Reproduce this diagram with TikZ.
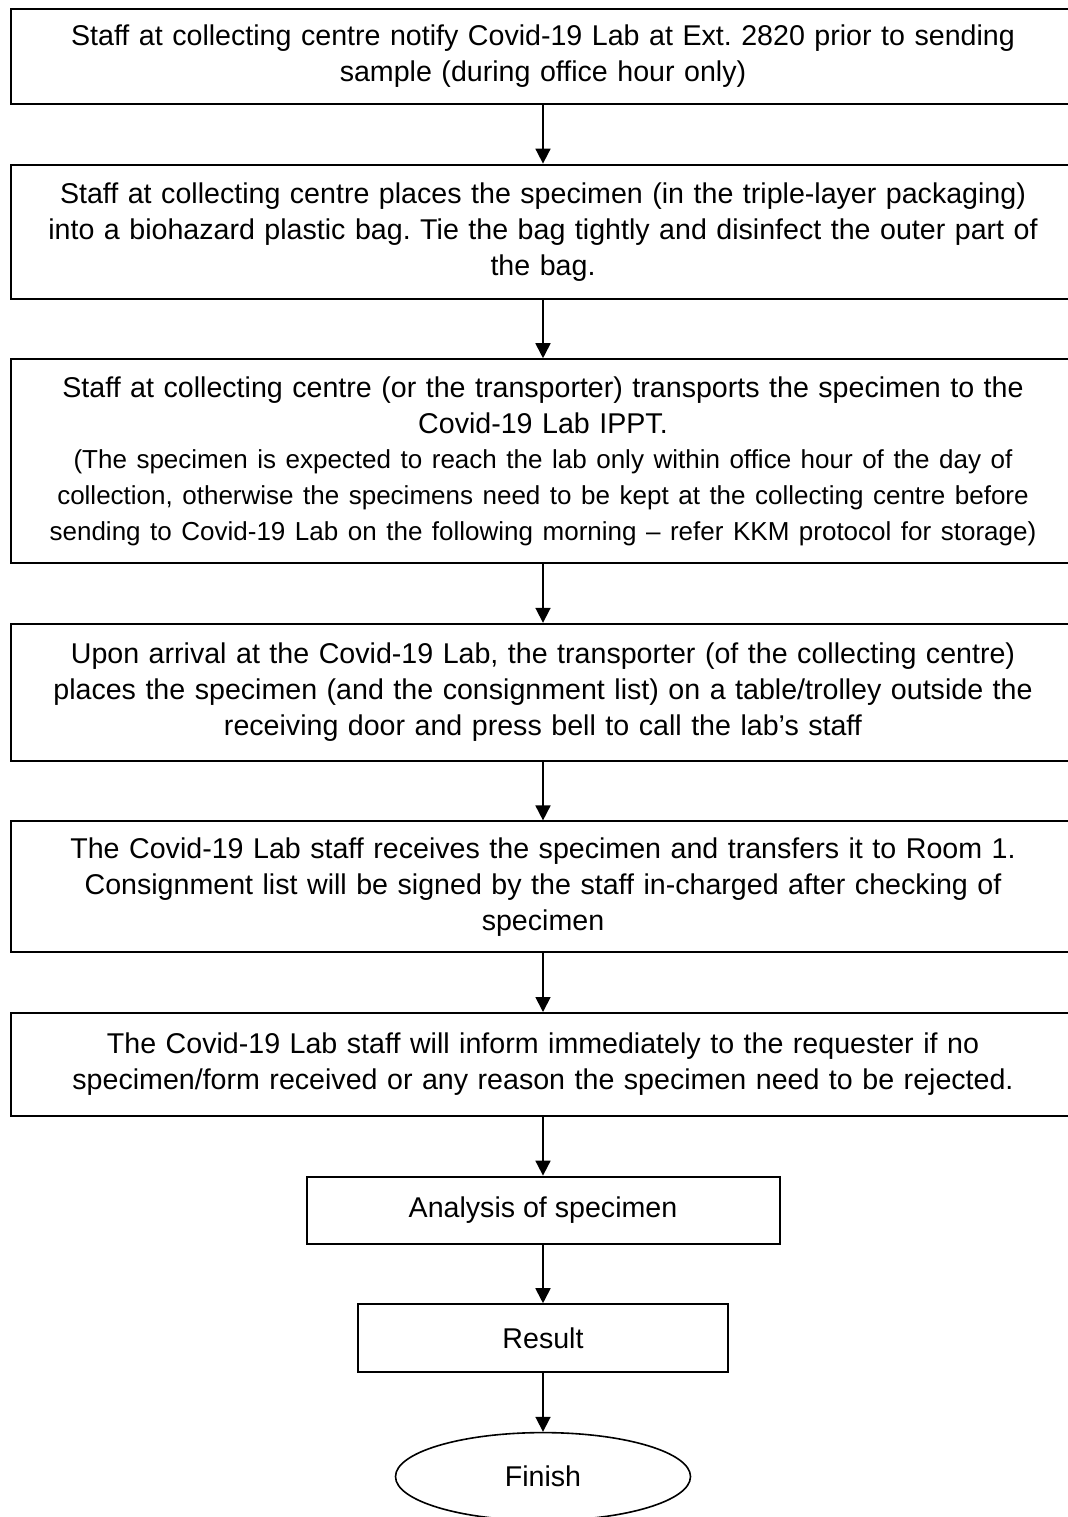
\documentclass[tikz,border=0pt]{standalone}
\usepackage{fontspec}
\setmainfont{Liberation Sans}
\frenchspacing
\usetikzlibrary{positioning,shapes.geometric,arrows.meta}
\tikzstyle{process} = [rectangle, minimum width=532pt, text width=525pt, align=center, draw=black, line width=1pt]
\tikzstyle{shortprocess} = [rectangle, align=center, draw=black, line width=1pt]
\tikzstyle{terminal} = [ellipse, minimum width=147.5pt, minimum height=44pt, inner sep=0pt, draw=black, line width=0.8pt]
\tikzstyle{arrow} = [line width=0.9pt,->,>={Triangle[length=7.5pt,width=7.5pt]}]

\begin{document}
\begin{tikzpicture}[node distance=29.3pt, font=\fontsize{14.3}{18}\selectfont]
\useasboundingbox (0,0) rectangle (534pt,-758.5pt);
\node (notify) [process, minimum height=47.5pt, anchor=north] at (271.5pt,-4pt) {Staff at collecting centre notify Covid-19 Lab at Ext. 2820 prior to sending\\ sample (during office hour only)};
\node (bag) [process, minimum height=67pt, below = of notify] {Staff at collecting centre places the specimen (in the triple-layer packaging)\\ into a biohazard plastic bag. Tie the bag tightly and disinfect the outer part of\\ the bag.};
\node (transport) [process, minimum height=102pt, below = of bag] {Staff at collecting centre (or the transporter) transports the specimen to the\\ Covid-19 Lab IPPT.\par
\fontsize{13}{17.8}\selectfont (The specimen is expected to reach the lab only within office hour of the day of\\ collection, otherwise the specimens need to be kept at the collecting centre before\\ sending to Covid-19 Lab on the following morning -- refer KKM protocol for storage)};
\node (arrival) [process, minimum height=68.5pt, below = of transport] {Upon arrival at the Covid-19 Lab, the transporter (of the collecting centre)\\ places the specimen (and the consignment list) on a table/trolley outside the\\ receiving door and press bell to call the lab's staff};
\node (receive) [process, minimum height=65.5pt, below = of arrival] {The Covid-19 Lab staff receives the specimen and transfers it to Room 1.\\ Consignment list will be signed by the staff in-charged after checking of\\ specimen};
\node (inform) [process, minimum height=51.5pt, below = of receive] {The Covid-19 Lab staff will inform immediately to the requester if no\\ specimen/form received or any reason the specimen need to be rejected.};
\node (analysis) [shortprocess, minimum width=236.5pt, minimum height=33.5pt, below = of inform] {Analysis of specimen};
\node (result) [shortprocess, minimum width=185pt, minimum height=34pt, below = of analysis] {Result};
\node (finish) [terminal, below = of result] {Finish};
\draw [arrow] (notify) -- (bag);
\draw [arrow] (bag) -- (transport);
\draw [arrow] (transport) -- (arrival);
\draw [arrow] (arrival) -- (receive);
\draw [arrow] (receive) -- (inform);
\draw [arrow] (inform) -- (analysis);
\draw [arrow] (analysis) -- (result);
\draw [arrow] (result) -- (finish);
\end{tikzpicture}
\end{document}
